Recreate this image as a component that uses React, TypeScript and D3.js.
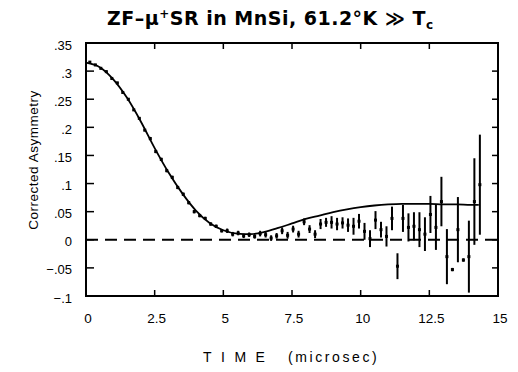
import React, { useEffect, useRef } from "react";
import * as d3 from "d3";

// measured points (time in microsec, corrected asymmetry, error)
const time = [
  0.14, 0.34, 0.54, 0.74, 0.94, 1.14, 1.34, 1.54, 1.74, 1.94,
  2.14, 2.34, 2.54, 2.74, 2.94, 3.14, 3.34, 3.54, 3.74, 3.94,
  4.14, 4.34, 4.54, 4.74, 4.94, 5.14, 5.34, 5.54, 5.74, 5.94,
  6.14, 6.34, 6.54, 6.74, 6.94, 7.14, 7.34, 7.54, 7.74, 7.94,
  8.14, 8.34, 8.54, 8.74, 8.94, 9.14, 9.34, 9.54, 9.74, 9.94,
  10.14, 10.34, 10.54, 10.74, 10.94, 11.14, 11.34, 11.54, 11.74, 11.94,
  12.14, 12.34, 12.54, 12.74, 12.94, 13.14, 13.34, 13.54, 13.74, 13.94,
  14.14, 14.34,
];
const asym = [
  0.316, 0.311, 0.305, 0.299, 0.287, 0.279, 0.262, 0.25, 0.231, 0.216,
  0.195, 0.18, 0.157, 0.143, 0.123, 0.111, 0.093, 0.081, 0.066, 0.05,
  0.043, 0.038, 0.028, 0.024, 0.016, 0.016, 0.01, 0.012, 0.007, 0.009,
  0.006, 0.011, 0.009, 0.003, 0.007, 0.016, 0.008, 0.019, 0.01, 0.032,
  0.019, 0.01, 0.028, 0.031, 0.031, 0.028, 0.03, 0.026, 0.024, 0.033,
  0.015, 0.002, 0.035, 0.018, 0.006, 0.038, -0.047, 0.038, 0.022, 0.024,
  0.018, 0.01, 0.045, 0.022, 0.068, -0.03, -0.053, 0.018, -0.036, -0.03,
  0.068, 0.098,
];
const err = [
  0.002, 0.002, 0.002, 0.002, 0.002, 0.002, 0.002, 0.002, 0.002, 0.002,
  0.002, 0.003, 0.003, 0.003, 0.003, 0.003, 0.003, 0.003, 0.003, 0.003,
  0.003, 0.003, 0.003, 0.003, 0.003, 0.004, 0.004, 0.004, 0.004, 0.004,
  0.004, 0.005, 0.005, 0.005, 0.005, 0.006, 0.006, 0.006, 0.006, 0.006,
  0.007, 0.007, 0.009, 0.008, 0.011, 0.011, 0.01, 0.012, 0.015, 0.013,
  0.015, 0.015, 0.016, 0.014, 0.018, 0.021, 0.023, 0.024, 0.025, 0.025,
  0.031, 0.03, 0.033, 0.04, 0.044, 0.049, 0.003, 0.058, 0.003, 0.064,
  0.077, 0.089,
];

// fitted curve
const fitTime = [
  0, 0.5, 1, 1.5, 2, 2.5, 3, 3.5, 4, 4.5, 5, 5.5, 6, 6.5, 7,
  7.5, 8, 8.5, 9, 9.5, 10, 10.5, 11, 11.5, 12, 12.5, 13, 13.5, 14, 14.3,
];
const fitValue = [
  0.315, 0.307, 0.285, 0.252, 0.21, 0.163, 0.12, 0.083, 0.052, 0.03, 0.017,
  0.011, 0.01, 0.014, 0.021, 0.029, 0.037, 0.043, 0.049, 0.054, 0.058, 0.061,
  0.063, 0.064, 0.064, 0.064, 0.063, 0.063, 0.062, 0.062,
];

const xTicks = [0, 2.5, 5, 7.5, 10, 12.5, 15];
const xTickLabels = ["0", "2.5", "5", "7.5", "10", "12.5", "15"];
const yTicks = [0.35, 0.3, 0.25, 0.2, 0.15, 0.1, 0.05, 0, -0.05, -0.1];
const yTickLabels = [".35", ".3", ".25", ".2", ".15", ".1", ".05", "0", "\u2212.05", "\u2212.1"];

const W = 518;
const H = 372;
const left = 86;
const right = 498;
const top = 43;
const bottom = 296;
const font = "'Liberation Sans', Arial, sans-serif";

const App = () => {
  const ref = useRef<SVGGElement>(null);

  useEffect(() => {
    const g = d3.select(ref.current);
    g.selectAll("*").remove();

    const x = d3.scaleLinear().domain([0, 15]).range([left, right]);
    const y = d3.scaleLinear().domain([-0.1, 0.35]).range([bottom, top]);

    // frame
    g.append("rect")
      .attr("x", left)
      .attr("y", top)
      .attr("width", right - left)
      .attr("height", bottom - top)
      .attr("fill", "none")
      .attr("stroke", "#000")
      .attr("stroke-width", 2);

    // ticks, all pointing inward
    xTicks.forEach(t => {
      g.append("line").attr("x1", x(t)).attr("x2", x(t))
        .attr("y1", bottom).attr("y2", bottom - 6)
        .attr("stroke", "#000").attr("stroke-width", 1.5);
      g.append("line").attr("x1", x(t)).attr("x2", x(t))
        .attr("y1", top).attr("y2", top + 6)
        .attr("stroke", "#000").attr("stroke-width", 1.5);
    });
    yTicks.forEach(v => {
      g.append("line").attr("x1", left).attr("x2", left + 8)
        .attr("y1", y(v)).attr("y2", y(v))
        .attr("stroke", "#000").attr("stroke-width", 1.5);
      g.append("line").attr("x1", right).attr("x2", right - 6)
        .attr("y1", y(v)).attr("y2", y(v))
        .attr("stroke", "#000").attr("stroke-width", 1.5);
    });

    // tick labels
    g.selectAll("text.xl").data(xTicks).enter().append("text")
      .attr("class", "xl")
      .attr("x", d => x(d) + 2)
      .attr("y", 323)
      .attr("text-anchor", "middle")
      .style("font-family", font)
      .style("font-size", "13.5px")
      .text((d, i) => xTickLabels[i]);

    g.selectAll("text.yl").data(yTicks).enter().append("text")
      .attr("class", "yl")
      .attr("x", 72)
      .attr("y", d => y(d) + 6.5)
      .attr("text-anchor", "end")
      .style("font-family", font)
      .style("font-size", "13px")
      .text((d, i) => yTickLabels[i]);

    // zero line
    g.append("line")
      .attr("x1", left).attr("x2", right)
      .attr("y1", y(0)).attr("y2", y(0))
      .attr("stroke", "#000")
      .attr("stroke-width", 2)
      .attr("stroke-dasharray", "12 7");

    // fit
    const line = d3.line<number>()
      .x((d, i) => x(fitTime[i]))
      .y(d => y(d))
      .curve(d3.curveMonotoneX);
    g.append("path")
      .attr("d", line(fitValue))
      .attr("fill", "none")
      .attr("stroke", "#000")
      .attr("stroke-width", 1.8);

    // data with error bars
    const pts = g.selectAll("g.pt").data(asym).enter().append("g").attr("class", "pt");
    pts.append("line")
      .attr("x1", (d, i) => x(time[i]))
      .attr("x2", (d, i) => x(time[i]))
      .attr("y1", (d, i) => y(d + err[i]))
      .attr("y2", (d, i) => y(d - err[i]))
      .attr("stroke", "#000")
      .attr("stroke-width", 2);
    pts.append("rect")
      .attr("x", (d, i) => x(time[i]) - 1.5)
      .attr("y", d => y(d) - 1.5)
      .attr("width", 3)
      .attr("height", 3)
      .attr("fill", "#000");
  }, []);

  return (
    <svg width={W} height={H} style={{ position: "absolute", left: 0, top: 0, background: "#fff" }}>
      <text x={270} y={25} textAnchor="middle" textLength={326} lengthAdjust="spacing"
        style={{ fontFamily: "'DejaVu Sans', sans-serif", fontSize: 19, fontWeight: "bold" }}>
        ZF–μ<tspan dy={-7} fontSize={12}>+</tspan><tspan dy={7}>SR  in  MnSi,  61.2°K ≫ T</tspan>
        <tspan dy={4} fontSize={12}>c</tspan>
      </text>
      <text transform="translate(38,160) rotate(-90)" textAnchor="middle"
        style={{ fontFamily: font, fontSize: 13.5, letterSpacing: 0.5 }}>
        Corrected Asymmetry
      </text>
      <text x={203} y={362} style={{ fontFamily: font, fontSize: 14, letterSpacing: 9.5 }}>TIME</text>
      <text x={288} y={362} style={{ fontFamily: font, fontSize: 14, letterSpacing: 2.6 }}>(microsec)</text>
      <g ref={ref} />
    </svg>
  );
};

export default App;
